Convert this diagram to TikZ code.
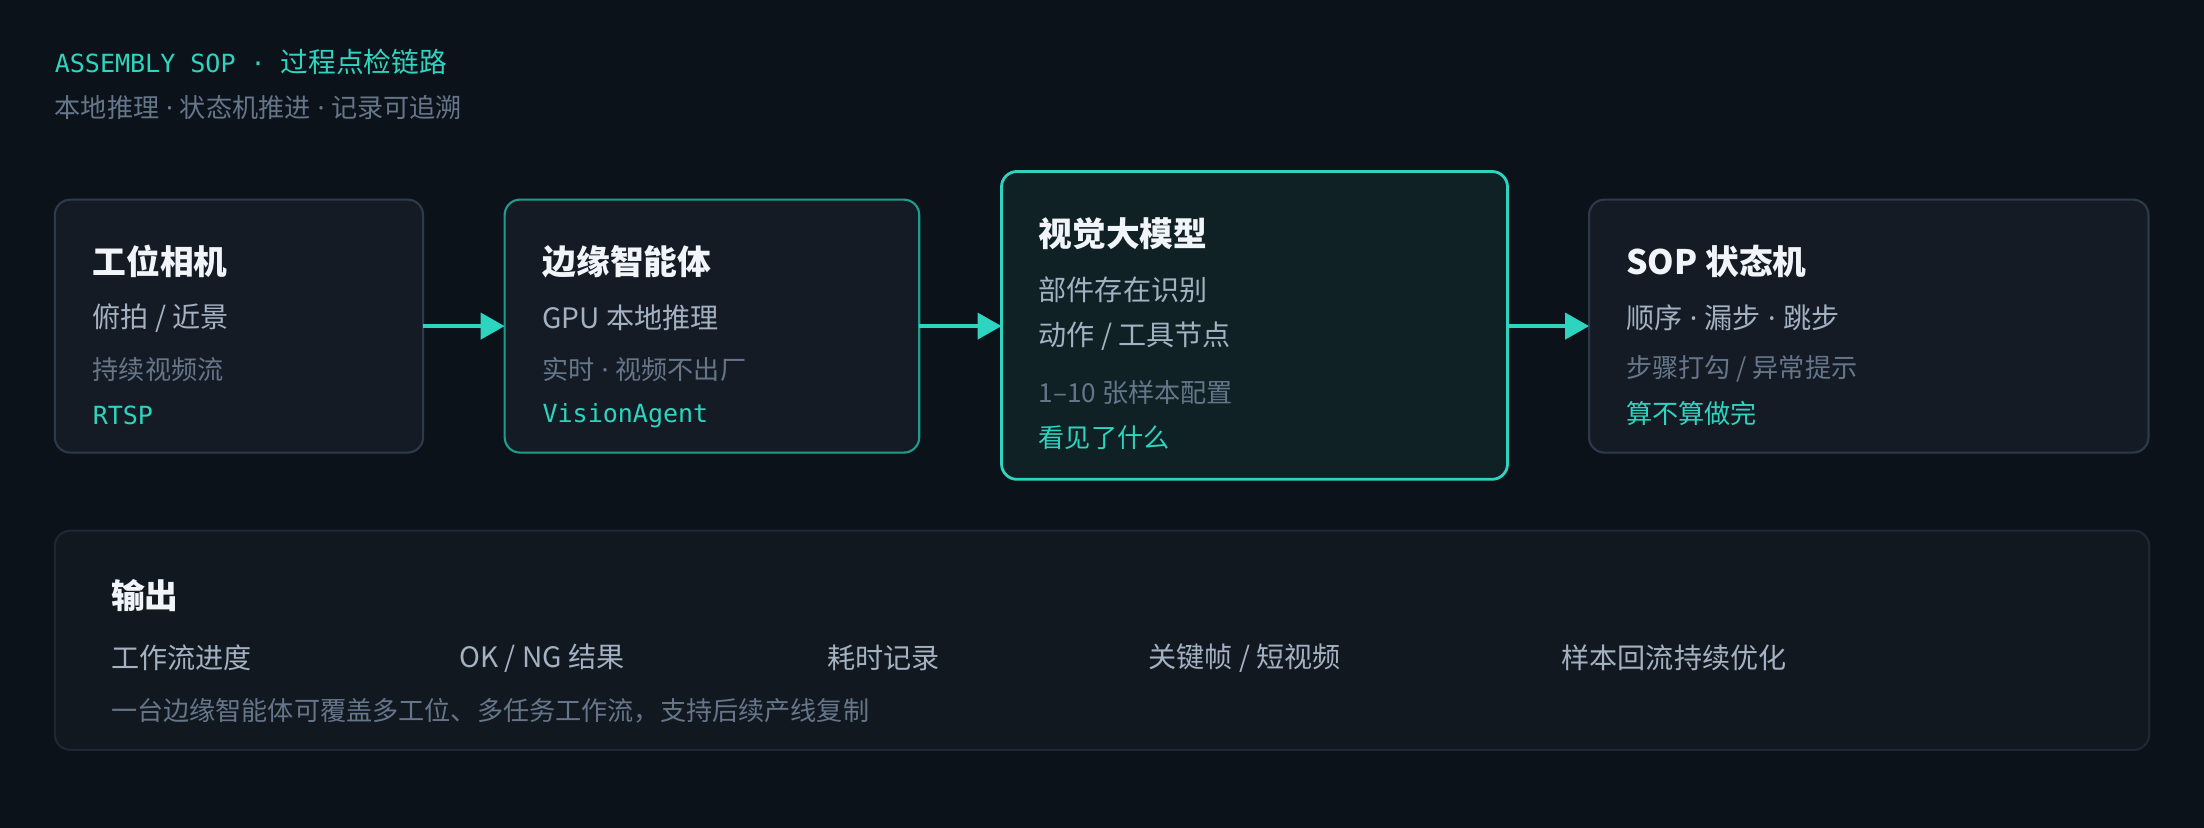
\documentclass[tikz,border=0pt]{standalone}
\usepackage{fontspec}
\setmainfont{Noto Sans CJK SC}
\setmonofont{DejaVu Sans Mono}
\newfontfamily\latinf{Noto Sans}
\usetikzlibrary{arrows.meta}
\definecolor{bg}{HTML}{0C121A}
\definecolor{cardfill}{HTML}{141B24}
\definecolor{cardline}{HTML}{2C3A4B}
\definecolor{tealdim}{HTML}{1F9D8C}
\definecolor{teal}{HTML}{2DD4BF}
\definecolor{hifill}{HTML}{0F2124}
\definecolor{outfill}{HTML}{111820}
\definecolor{outline}{HTML}{1E2835}
\definecolor{ttl}{HTML}{F1F5F9}
\definecolor{lineA}{HTML}{A3B1C2}
\definecolor{lineB}{HTML}{66768A}
\newcommand\fTitle{\fontsize{24}{28}\selectfont\bfseries}
\newcommand\fMain{\fontsize{20}{24}\selectfont}
\newcommand\fSub{\fontsize{18.6}{22}\selectfont}
\newcommand\fMono{\fontsize{17.8}{21}\selectfont\ttfamily}
\newcommand\msep{{\latinf\ ·\ }}
\tikzset{
  card/.style={draw=cardline, fill=cardfill, line width=1.5pt, rounded corners=11pt,
    anchor=north west, inner sep=0pt, outer sep=0pt},
  txt/.style={anchor=west, inner sep=0pt, outer sep=0pt},
  ttltxt/.style={txt, text=ttl, font=\fTitle},
  maintxt/.style={txt, text=lineA, font=\fMain},
  subtxt/.style={txt, text=lineB, font=\fSub},
  monotxt/.style={txt, text=teal, font=\fMono},
  tealtxt/.style={txt, text=teal, font=\fSub},
  flow/.style={draw=teal, line width=2.8pt, -{Triangle[length=17pt,width=18.5pt]}}
}
\begin{document}
\begin{tikzpicture}[x=1pt,y=-1pt]
\fill[bg] (0,0) rectangle (1568,589);
\useasboundingbox (0,0) rectangle (1568,589);

% header
\node[txt, text=teal] (head) at (39,44) {{\fontsize{17.8}{21}\selectfont\ttfamily ASSEMBLY SOP · }{\fontsize{19.7}{22}\selectfont 过程点检链路}};
\node[subtxt] (subhead) at (39,76.5) {本地推理\msep 状态机推进\msep 记录可追溯};

% cards
\node[card, minimum width=262pt, minimum height=180pt] (cam) at (39,142) {};
\node[card, draw=tealdim, minimum width=295pt, minimum height=180pt] (agent) at (359,142) {};
\node[card, draw=teal, fill=hifill, line width=2pt, minimum width=360pt, minimum height=219pt] (vlm) at (712.5,122) {};
\node[card, minimum width=398pt, minimum height=180pt] (sop) at (1130.5,142) {};

% card 1
\node[ttltxt] (t1) at (66,186) {工位相机};
\node[maintxt] (a1) at (66,226) {俯拍 / 近景};
\node[subtxt] (b1) at (66,263) {持续视频流};
\node[monotxt] (c1) at (66,295.5) {RTSP};

% card 2
\node[ttltxt] (t2) at (386,186) {边缘智能体};
\node[maintxt] (a2) at (386,226) {GPU 本地推理};
\node[subtxt] (b2) at (386,263) {实时\msep 视频不出厂};
\node[monotxt] (c2) at (386,295.5) {VisionAgent};

% card 3
\node[ttltxt] (t3) at (739,166) {视觉大模型};
\node[maintxt] (a3) at (739,206) {部件存在识别};
\node[maintxt] (a3b) at (739,239.5) {动作 / 工具节点};
\node[subtxt] (b3) at (739,279) {1–10 张样本配置};
\node[tealtxt] (c3) at (739,311) {看见了什么};

% card 4
\node[ttltxt] (t4) at (1157,186) {SOP 状态机};
\node[maintxt] (a4) at (1157,226) {顺序\msep 漏步\msep 跳步};
\node[subtxt] (b4) at (1157,262.5) {步骤打勾 / 异常提示};
\node[tealtxt] (c4) at (1157,294.5) {算不算做完};

% arrows
\draw[flow] (cam.east) -- (agent.west);
\draw[flow] (agent.east) -- (vlm.west |- agent.east);
\draw[flow] (vlm.east |- sop.west) -- (sop.west);

% output panel
\node[card, draw=outline, fill=outfill, minimum width=1490pt, minimum height=156pt] (out) at (39,377.5) {};
\node[ttltxt] (ot) at (79,424) {输出};
\node[maintxt] (o1) at (79,468) {工作流进度};
\node[maintxt] (o2) at (327,468) {OK / NG 结果};
\node[maintxt] (o3) at (588.5,468) {耗时记录};
\node[maintxt] (o4) at (817,468) {关键帧 / 短视频};
\node[maintxt] (o5) at (1111,468) {样本回流持续优化};
\node[subtxt] (onote) at (79,505.5) {一台边缘智能体可覆盖多工位、多任务工作流，支持后续产线复制};
\end{tikzpicture}
\end{document}
